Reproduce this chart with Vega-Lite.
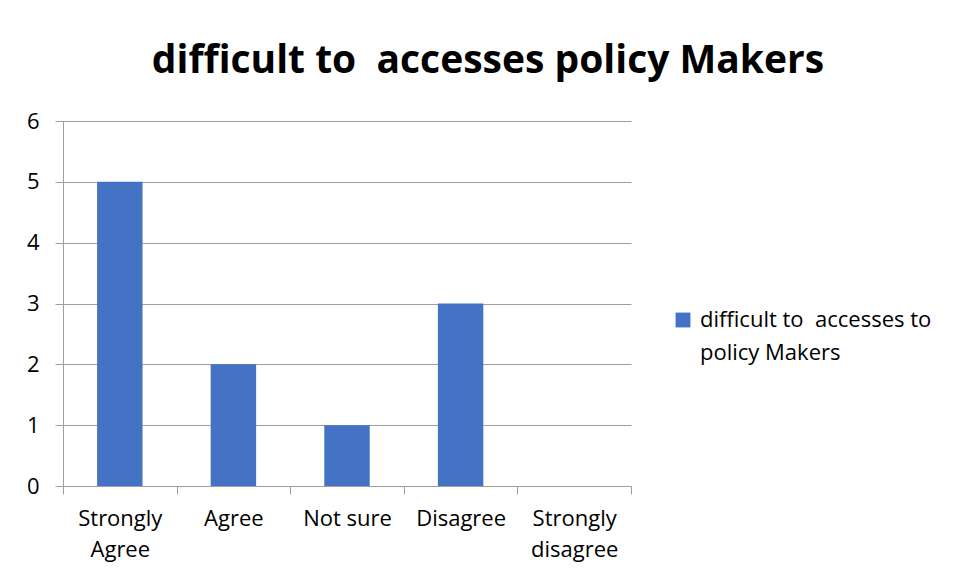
{
  "$schema": "https://vega.github.io/schema/vega-lite/v6.json",
  "autosize": "none",
  "width": 568,
  "height": 365,
  "padding": {"left": 63, "top": 121, "right": 326, "bottom": 94},
  "background": "white",
  "title": {
    "text": "difficult to\u00a0 accesses policy Makers",
    "font": "Open Sans",
    "fontSize": 39,
    "fontWeight": "bold",
    "color": "#000000",
    "anchor": "middle",
    "frame": "group",
    "dx": 141,
    "baseline": "alphabetic",
    "offset": -2
  },
  "data": {
    "values": [
      {"category": "Strongly Agree", "value": 5, "series": "difficult to  accesses to policy Makers"},
      {"category": "Agree", "value": 2, "series": "difficult to  accesses to policy Makers"},
      {"category": "Not sure", "value": 1, "series": "difficult to  accesses to policy Makers"},
      {"category": "Disagree", "value": 3, "series": "difficult to  accesses to policy Makers"},
      {"category": "Strongly disagree", "value": 0, "series": "difficult to  accesses to policy Makers"}
    ]
  },
  "mark": {"type": "bar", "width": {"band": 0.4}},
  "encoding": {
    "x": {
      "field": "category",
      "type": "nominal",
      "sort": null,
      "scale": {"paddingInner": 0, "paddingOuter": 0},
      "axis": {
        "title": null,
        "labelAngle": 0,
        "labelFont": "Open Sans",
        "labelFontSize": 22,
        "labelColor": "#000000",
        "labelPadding": 14,
        "labelLineHeight": 31,
        "labelExpr": "indexof(datum.label,'Strongly')==0 ? split(datum.label,' ') : datum.label",
        "tickBand": "extent",
        "tickSize": 8,
        "tickColor": "#9e9e9e",
        "domainColor": "#9e9e9e",
        "grid": false
      }
    },
    "y": {
      "field": "value",
      "type": "quantitative",
      "scale": {"domain": [0, 6]},
      "axis": {
        "title": null,
        "values": [0, 1, 2, 3, 4, 5, 6],
        "labelOverlap": false,
        "labelFont": "Open Sans",
        "labelFontSize": 22,
        "labelColor": "#000000",
        "labelPadding": 16,
        "tickSize": 8,
        "tickColor": "#9e9e9e",
        "domainColor": "#9e9e9e",
        "gridColor": "#9e9e9e",
        "grid": true
      }
    },
    "color": {
      "field": "series",
      "type": "nominal",
      "scale": {"range": ["#4472C4"]},
      "legend": {
        "title": null,
        "orient": "none",
        "legendX": 609,
        "legendY": 188,
        "symbolType": "square",
        "symbolSize": 220,
        "symbolStrokeWidth": 0,
        "labelFont": "Open Sans",
        "labelFontSize": 22,
        "labelColor": "#000000",
        "labelLimit": 300,
        "labelOffset": 6,
        "labelExpr": "['difficult to\u00a0 accesses to', 'policy Makers']",
        "encode": {"labels": {"update": {"lineHeight": {"value": 33}}}}
      }
    }
  },
  "config": {"view": {"stroke": null}}
}
